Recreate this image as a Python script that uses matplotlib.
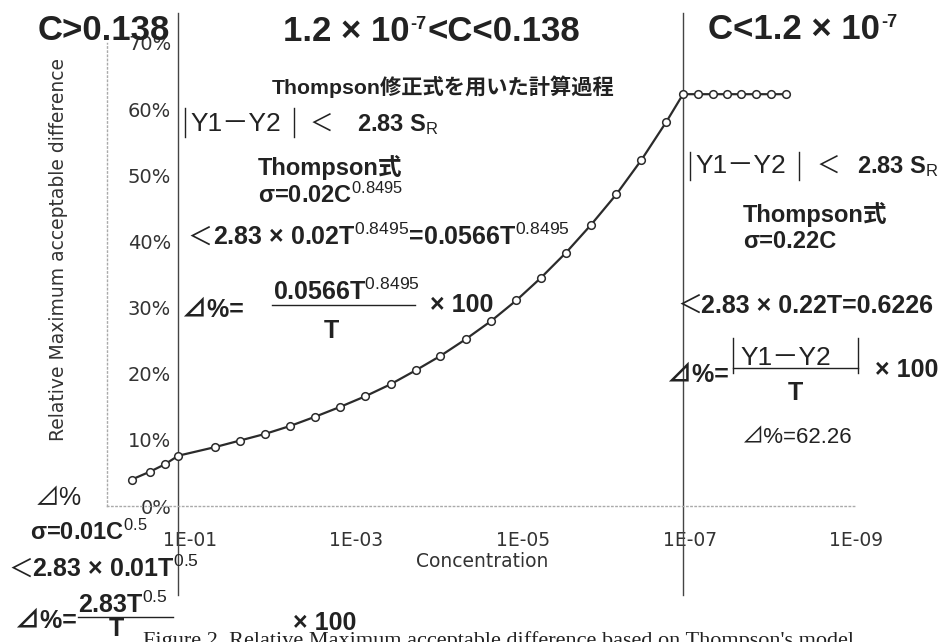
import numpy as np
import matplotlib.pyplot as plt
from matplotlib.lines import Line2D
from matplotlib.ticker import FixedLocator, FixedFormatter, NullLocator

plt.rcParams['mathtext.fontset'] = 'custom'
plt.rcParams['mathtext.rm'] = 'Liberation Sans'
plt.rcParams['mathtext.bf'] = 'Liberation Sans:bold'
plt.rcParams['mathtext.it'] = 'Liberation Sans:italic'

# concentration (x) and relative max acceptable difference in % (y)
conc = [0.5, 0.3, 0.2, 0.138,
        5.0e-2, 2.5e-2, 1.25e-2, 6.25e-3, 3.13e-3, 1.56e-3, 7.8e-4, 3.9e-4,
        1.95e-4, 9.8e-5, 4.9e-5, 2.4e-5, 1.2e-5, 6.1e-6, 3.05e-6, 1.53e-6,
        7.6e-7, 3.8e-7, 1.9e-7,
        1.2e-7, 8.0e-8, 5.3e-8, 3.6e-8, 2.4e-8, 1.6e-8, 1.05e-8, 7.0e-9]
diff = [4.0, 5.2, 6.3, 7.6,
        8.9, 9.9, 10.9, 12.1, 13.5, 15.0, 16.6, 18.4,
        20.5, 22.7, 25.2, 28.0, 31.1, 34.5, 38.3, 42.5,
        47.1, 52.3, 58.1,
        62.26, 62.26, 62.26, 62.26, 62.26, 62.26, 62.26, 62.26]
bounds = [0.138, 1.2e-7]  # region boundaries

xticks = [1e-1, 1e-3, 1e-5, 1e-7, 1e-9]
xlabels = ['1E-01', '1E-03', '1E-05', '1E-07', '1E-09']
yticks = [0, 10, 20, 30, 40, 50, 60, 70]
ylabels = ['0%', '10%', '20%', '30%', '40%', '50%', '60%', '70%']

W, H = 951, 642
INK = '#222222'
SANS = ['Liberation Sans', 'Noto Sans CJK JP', 'DejaVu Sans']

fig = plt.figure(figsize=(W / 100, H / 100), dpi=100)
ax = fig.add_axes([106.6 / W, 1 - 506 / H, 749.6 / W, 463 / H])

ax.plot(conc, diff, color='#2b2b2b', lw=1.6, marker='o', ms=5.5,
        mfc='white', mec='#2b2b2b', mew=1.1, zorder=3)

ax.set_xscale('log')
ax.set_xlim(1, 1e-9)
ax.set_ylim(0, 70)
ax.xaxis.set_major_locator(FixedLocator(xticks))
ax.xaxis.set_major_formatter(FixedFormatter(xlabels))
ax.xaxis.set_minor_locator(NullLocator())
ax.yaxis.set_major_locator(FixedLocator(yticks))
ax.yaxis.set_major_formatter(FixedFormatter(ylabels))
ax.tick_params(axis='x', length=0, pad=18, labelsize=13.5, labelcolor='#333333')
ax.tick_params(axis='y', length=0, pad=-46.5, labelsize=14, labelcolor='#333333')

for s in ['top', 'right']:
    ax.spines[s].set_visible(False)
for s in ['left', 'bottom']:
    ax.spines[s].set_color('#aaaaaa')
    ax.spines[s].set_linestyle((0, (1, 2)))
    ax.spines[s].set_linewidth(1)

ax.set_xlabel('Concentration', fontsize=13.5, color='#333333')
ax.xaxis.set_label_coords(0.5008, -0.099)
ax.set_ylabel('Relative Maximum acceptable difference', fontsize=13.5, color='#333333')
ax.yaxis.set_label_coords(-0.052, 0.553)

# boundary lines, reaching beyond the plot area
for b in bounds:
    ax.axvline(b, ymin=-0.192, ymax=1.065, color='#444444', lw=1.0, clip_on=False)

renderer = fig.canvas.get_renderer()


def put(x, y, s, size=17, weight='bold', ha='left'):
    return fig.text(x / W, 1 - y / H, s, fontsize=size, fontweight=weight,
                    family=SANS, va='baseline', ha=ha, color=INK)


def width(t):
    return t.get_window_extent(renderer).width


def header(x, y, pieces, size=25):
    # pieces: list of (text, is_superscript)
    for s, sup in pieces:
        if sup:
            t = put(x + 1, y - 12, s, size * 0.52)
            x += width(t) + 2
        else:
            t = put(x, y, s, size)
            x += width(t)


def seg(x0, y0, x1, y1, lw=1.0):
    fig.add_artist(Line2D([x0 / W, x1 / W], [1 - y0 / H, 1 - y1 / H],
                          color=INK, lw=lw))


# region headers
put(38, 40, 'C>0.138', 25)
header(283, 41, [('1.2 × 10', False), ('-7', True), ('<C<0.138', False)])
header(708, 39, [('C<1.2 × 10', False), ('-7', True)])

put(272, 94, 'Thompson修正式を用いた計算過程', 15.3)

# middle region
seg(185, 108, 185, 137)
seg(294, 108, 294, 137)
put(190, 131, 'Y1－Y2', 19, 'normal')
put(310, 131, '＜', 17, 'normal')
put(357, 131, r'2.83 S$_\mathrm{R}$', 17)
put(258, 175, 'Thompson式', 17)
put(258, 203, r'σ=0.02C$^{\mathrm{0.8495}}$', 17)
put(187, 245, '＜', 18, 'normal')
put(213, 245, r'2.83 × 0.02T$^{\mathrm{0.8495}}$=0.0566T$^{\mathrm{0.8495}}$', 18)
put(182, 317, '⊿%=', 18)
put(273, 300, r'0.0566T$^{\mathrm{0.8495}}$', 18)
seg(272, 305, 415, 305)
put(331, 338, 'T', 18, ha='center')
put(430, 312, '× 100', 18)

# right region
seg(690, 152, 690, 180)
seg(799, 152, 799, 180)
put(695, 173, 'Y1－Y2', 19, 'normal')
put(817, 173, '＜', 17, 'normal')
put(857, 173, r'2.83 S$_\mathrm{R}$', 17)
put(743, 222, 'Thompson式', 17)
put(743, 248, 'σ=0.22C', 17)
put(677, 313, '＜', 18, 'normal')
put(701, 313, '2.83 × 0.22T=0.6226', 18)
put(667, 382, '⊿%=', 18)
seg(733, 338, 733, 373)
seg(858, 338, 858, 373)
seg(733, 368, 858, 368)
put(740, 365, 'Y1－Y2', 19, 'normal')
put(795, 400, 'T', 18, ha='center')
put(875, 377, '× 100', 18)
put(742, 443, '⊿%=62.26', 16, 'normal')

# left region
put(35, 505, '⊿%', 18, 'normal')
put(30, 540, r'σ=0.01C$^{\mathrm{0.5}}$', 17)
put(8, 577, '＜', 18, 'normal')
put(32, 577, r'2.83 × 0.01T$^{\mathrm{0.5}}$', 18)
put(15, 628, '⊿%=', 18)
put(78, 613, r'2.83T$^{\mathrm{0.5}}$', 18)
seg(78, 617, 173, 617)
put(116, 636, 'T', 18, ha='center')
put(293, 630, '× 100', 18)

fig.text(143 / W, 1 - 646 / H,
         "Figure 2. Relative Maximum acceptable difference based on Thompson's model",
         family='Liberation Serif', fontsize=16, va='baseline', color=INK)

fig.savefig('out.png', dpi=100)
